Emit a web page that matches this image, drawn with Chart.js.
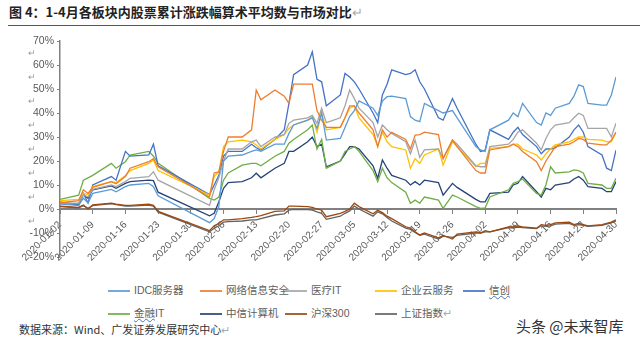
<!DOCTYPE html>
<html>
<head>
<meta charset="utf-8">
<script src="https://cdn.jsdelivr.net/npm/chart.js@4.4.1/dist/chart.umd.min.js"></script>
<style>
    body { margin: 0; width: 640px; height: 345px; background: #fff; position: relative; overflow: hidden;
           font-family: "Liberation Sans", "Noto Sans CJK SC", sans-serif; }
    #title { position: absolute; left: 9px; top: 2px; font-size: 13px; font-weight: bold; color: #222;
             font-family: "Noto Sans CJK SC", sans-serif; white-space: nowrap; }
    .pm { color: #aaa; font-weight: normal; }
    #rule { position: absolute; left: 8px; right: 0; top: 25px; border-top: 1.5px solid #555; }
    #wrap { position: absolute; left: 0; top: 30px; width: 640px; height: 240px; }
    .item { position: absolute; font-size: 10.5px; color: #606060; white-space: nowrap; line-height: 14px; }
    .item i { display: inline-block; width: 22px; height: 2px; vertical-align: middle; margin-right: 4px; opacity: 0.85; }
    .wavy { text-decoration: underline wavy #4472c4; text-decoration-thickness: 1px; }
    #source { position: absolute; left: 19px; top: 321px; font-size: 11px; color: #333;
              font-family: "Noto Sans CJK SC", sans-serif; white-space: nowrap; }
    #mark { position: absolute; left: 516px; top: 315px; font-size: 15px; color: #333;
            font-family: "Noto Sans CJK SC", sans-serif; white-space: nowrap; text-shadow: 0 0 2px #fff; }
</style>
</head>
<body>
<div id="title">图 4：1-4月各板块内股票累计涨跌幅算术平均数与市场对比<span class="pm">↵</span></div>
<div id="rule"></div>
<div id="wrap"><canvas id="chart"></canvas></div>
<div id="legend"></div>
<div id="source">数据来源：Wind、广发证券发展研究中心<span class="pm">↵</span></div>
<div id="mark">头条 @未来智库</div>

<script>
// trading days (month-day, 2020)
const tradeDates = [
    '01-02','01-06','01-07','01-08','01-09','01-13','01-14','01-16','01-17','01-21','01-22','01-23',
    '02-03','02-04','02-05','02-06','02-07','02-10','02-12','02-13','02-14','02-17','02-19','02-20','02-21','02-24','02-25','02-26','02-27','02-28',
    '03-02','03-03','03-04','03-05','03-06','03-09','03-10','03-11','03-12','03-13','03-16','03-17','03-18','03-19','03-20','03-23','03-24','03-26','03-27','03-31',
    '04-01','04-02','04-03','04-07','04-08','04-09','04-10','04-13','04-14','04-15','04-16','04-17','04-20','04-21','04-22','04-23','04-24','04-27','04-28','04-29','04-30'
];

const idcServer = [
    2, 1.5, 4.5, 2.5, 6.5, 8.2, 7.2, 9.3, 10, 10.7, 9.3, 5.5,
    -5.7, -4, 1, 20, 22, 22.5, 24, 24.6, 24, 27, 27, 31.5, 35, 37, 38, 33.6, 40, 28.7,
    29.4, 34, 38.5, 41, 45, 42, 39, 45, 46.8, 47, 46, 38.5, 37, 36.4, 44, 41, 40, 41, 38, 26,
    24.6, 24, 33, 37, 40, 38.5, 44, 36, 35, 40, 39, 42, 44, 47, 51.7, 51, 44, 43.3, 43.3, 47.5, 55
];
const netSecurity = [
    2.6, 3.5, 8, 6.5, 9, 11.4, 10.5, 13.5, 17, 19.7, 21, 17.6,
    5, 15, 15.5, 24, 30, 30, 33, 49.6, 45.5, 49.6, 47, 44, 52, 52, 52, 41, 37, 34,
    34, 38, 43, 43, 40, 33, 26, 33, 30, 32, 29, 25, 30.8, 31, 32, 31, 21, 28.7, 26, 16,
    15, 15, 24.6, 26, 27, 26, 24, 19.7, 16, 20, 23, 26, 27, 28, 29.4, 29, 27.4, 26.7, 26.7, 28.7, 32
];
const medicalIT = [
    2.4, 2.5, 6, 5, 8.2, 10, 9.3, 11.4, 12.8, 13.5, 15.5, 12,
    1.5, 8, 13, 20, 25, 25, 28, 28.7, 26, 30, 31, 35.7, 37, 38, 39, 35.7, 42, 36,
    38, 43, 49.6, 46, 42, 36, 30, 35, 33, 31.5, 28, 23, 28.7, 21.5, 24.6, 25, 21, 28.7, 27, 18,
    17.6, 17.6, 26, 27, 29, 32, 33, 27.4, 24.6, 29.4, 33, 35, 36, 38, 39.9, 39, 33.6, 33.6, 33.6, 30, 35.7
];
const cloudService = [
    3.5, 4, 6.5, 6, 9.3, 11.4, 11, 14, 16, 19, 20.4, 16,
    5.8, 13.5, 15.5, 26, 28, 28.7, 28, 26.7, 25, 29, 31, 33.6, 35, 37, 38.5, 32, 40, 33,
    34, 38, 42, 43, 38, 31, 26, 32, 28, 26, 24.6, 17, 21, 19, 22.5, 25, 18.3, 28, 26, 17.6,
    19, 19, 25.3, 26, 27, 27, 25, 22.5, 20.4, 23, 25, 26.7, 28, 29, 30, 30, 29, 28.7, 28, 28, 32
];
const xinChuang = [
    3, 1.5, 6.5, 2.5, 10, 13.5, 12, 24, 22, 22.5, 27, 18,
    6, 10, 14, 22, 24, 24, 27, 25.5, 24.5, 29, 33, 44, 56, 60, 65.5, 54, 53, 43,
    47.5, 56.5, 55, 53, 50, 40, 36, 47.5, 52, 58, 56, 56.5, 58, 53, 50, 38, 37, 46, 42, 27,
    24, 24.5, 33, 29, 32, 34, 31, 26, 23, 25, 25, 25.5, 30, 33, 35, 32, 26, 22.5, 17, 16, 24.5
];
const financeIT = [
    4, 5.8, 12, 13, 14, 19, 17, 19.7, 22.5, 24, 22, 19,
    4.4, 3.7, 5, 12, 15, 18.3, 19, 19, 18, 22, 24, 27.4, 29, 33, 35, 25, 29, 17,
    20, 24, 25, 26, 24, 16, 11.4, 17, 13, 11, 7, 2.4, 3.7, 2.4, 5, 3.7, 0.3, 5.8, 5, 1,
    0.3, 0.5, 5, 8, 10.7, 11.4, 12.5, 6.5, 5.8, 10, 17.6, 15, 15.5, 16.3, 16, 15, 10.7, 10, 8.6, 8.6, 12.8
];
const citicComputer = [
    2.6, 2, 6, 4.5, 8, 9.6, 8.6, 10.7, 11.4, 12, 11.8, 7,
    -2.8, -1.8, 3, 8.6, 11, 11.4, 13, 14.9, 13, 17, 19, 24, 24, 28, 30, 26, 27, 17.6,
    20, 23, 26, 26, 25, 18, 12.8, 20.4, 17, 14, 12, 10, 11.4, 10, 12, 11, 5.8, 10.7, 9, 4,
    3, 3, 6.5, 7, 10, 10.7, 13.5, 7.2, 5, 8.6, 8, 10, 11, 12.5, 13.5, 12, 9.3, 8.6, 7.2, 7.2, 11.4
];
const hs300 = [
    1.2, 0.7, 1.7, 0, 1.7, 2.4, 2, 1.5, 1.5, 2, 1.5, -1,
    -9, -7, -6, -4.5, -4.5, -4, -3.5, -3.2, -2.8, -1, -0.8, 1.2, 1.2, 1, 0.7, 0, -0.5, -3.2,
    -1.8, -1, 0, 2.4, 1, -2, -0.5, -1.5, -3, -4, -7.4, -8, -9.5, -10.8, -10, -12, -11, -12.5, -10.5, -9.5,
    -10, -9, -9.5, -7.5, -7.5, -7, -7.5, -8, -6.5, -6.8, -6.5, -5.8, -5.5, -6.5, -6, -6.5, -7, -6.5, -6, -5.5, -4.5
];
const shIndex = [
    1, 0.5, 1.4, 0.3, 1.4, 2.2, 1.8, 1.2, 1.2, 1.6, 1.2, -1.3,
    -9.5, -8, -7, -5.5, -5.3, -5, -4.5, -4.5, -4, -2.5, -2, -0.5, -0.2, -0.3, -0.5, -1.2, -1.8, -4.3,
    -3, -1.8, -0.8, 1.2, 0, -3, -1.2, -2, -3.5, -5, -8, -8.5, -9.8, -11, -10.5, -12.5, -11.3, -11.8, -11, -10,
    -10, -9.5, -9.5, -7.8, -8, -7.5, -7.8, -8.2, -7, -7.2, -7, -6.3, -6, -6.8, -6.5, -6.8, -7.2, -6.8, -6.3, -5.8, -5
];

const seriesNames = ['IDC服务器', '网络信息安全', '医疗IT', '企业云服务', '信创', '金融IT', '中信计算机', '沪深300', '上证指数'];
const seriesValues = [idcServer, netSecurity, medicalIT, cloudService, xinChuang, financeIT, citicComputer, hs300, shIndex];
const seriesColors = ['#5b9bd5', '#ed7d31', '#a5a5a5', '#ffc000', '#4472c4', '#70ad47', '#264478', '#9e480e', '#636363'];

const xTickLabels = [
    '2020-01-02','2020-01-09','2020-01-16','2020-01-23','2020-01-30','2020-02-06','2020-02-13','2020-02-20','2020-02-27',
    '2020-03-05','2020-03-12','2020-03-19','2020-03-26','2020-04-02','2020-04-09','2020-04-16','2020-04-23','2020-04-30'
];
const yTicks = [70, 60, 50, 40, 30, 20, 10, 0, -10, -20];

// days since 2020-01-02, so the x axis keeps calendar spacing (holiday gaps included)
function dayIndex(md) {
    const [m, d] = md.split('-').map(Number);
    return (Date.UTC(2020, m - 1, d) - Date.UTC(2020, 0, 2)) / 864e5;
}
const dayX = tradeDates.map(dayIndex);

// the stray word-processor return marks between the y labels
const returnMarks = {
    id: 'returnMarks',
    afterDraw(chart) {
        const { ctx, scales: { y } } = chart;
        ctx.save();
        ctx.fillStyle = '#9a9a9a';
        ctx.font = '9px "Noto Sans CJK SC"';
        ctx.textAlign = 'center';
        ctx.textBaseline = 'middle';
        yTicks.slice(0, 8).forEach(v => ctx.fillText('↵', 32, y.getPixelForValue(v - 5)));
        ctx.restore();
    }
};

const chart = new Chart(document.getElementById('chart'), {
    type: 'line',
    data: {
        datasets: seriesNames.map((name, i) => ({
            label: name,
            data: seriesValues[i].map((v, k) => ({ x: dayX[k], y: v })),
            borderColor: seriesColors[i],
            backgroundColor: seriesColors[i],
            borderWidth: 1.3,
            pointRadius: 0,
            tension: 0,
            fill: false
        }))
    },
    options: {
        responsive: true,
        maintainAspectRatio: false,
        animation: false,
        layout: { padding: { left: 5, right: 24, top: 11, bottom: 13 } },
        plugins: { legend: { display: false }, tooltip: { enabled: false } },
        scales: {
            x: {
                type: 'linear',
                position: { y: 0 },
                min: 0,
                max: 119,
                ticks: {
                    stepSize: 7,
                    autoSkip: false,
                    minRotation: 45,
                    maxRotation: 45,
                    padding: 6,
                    color: '#595959',
                    font: { size: 10, family: '"Liberation Sans"' },
                    callback: v => xTickLabels[Math.round(v / 7)]
                },
                grid: { drawOnChartArea: false, drawTicks: true, tickLength: 4, color: '#808080' },
                border: { color: '#808080', width: 2 }
            },
            y: {
                min: -20,
                max: 70,
                afterBuildTicks: s => { s.ticks = yTicks.map(v => ({ value: v })); },
                ticks: {
                    padding: 3,
                    color: '#595959',
                    font: { size: 10.5, family: '"Liberation Sans"' },
                    callback: v => v + '%'
                },
                grid: { drawOnChartArea: false, drawTicks: true, tickLength: 3, color: '#808080' },
                border: { color: '#808080', width: 1.5 },
                afterFit: s => { s.width = 55; }
            }
        }
    },
    plugins: [returnMarks]
});

// legend laid out in the same two-row grid as the original
const legendCols = [108, 200, 285, 375, 463];
const legendRows = [283, 306];
const legend = document.getElementById('legend');
chart.data.datasets.forEach((ds, i) => {
    const el = document.createElement('div');
    el.className = 'item';
    el.style.left = legendCols[i % 5] + 'px';
    el.style.top = legendRows[Math.floor(i / 5)] + 'px';
    let text = ds.label;
    if (ds.label === '金融IT') text = '<span class="wavy">金融</span>IT';
    if (ds.label === '上证指数') text += '<span class="pm">↵</span>';
    el.innerHTML = `<i style="background:${ds.borderColor}"></i>` +
        (ds.label === '信创' ? `<span class="wavy">${text}</span>` : text);
    legend.appendChild(el);
});
</script>
</body>
</html>
